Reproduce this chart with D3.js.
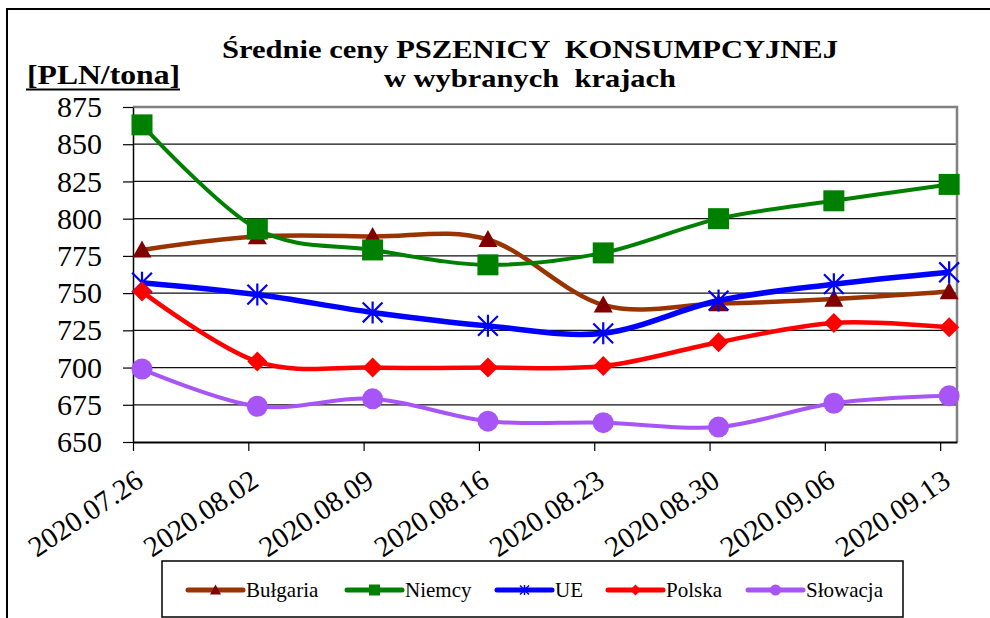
<!DOCTYPE html>
<html>
<head>
<meta charset="utf-8">
<script src="https://cdn.jsdelivr.net/npm/d3@7"></script>
<style>
body { margin: 0; background: #fff; }
svg { display: block; }
svg text { font-family: "Liberation Serif", "Times New Roman", serif; fill: #000; }
</style>
</head>
<body>
<div id="chart"></div>
<script>
// categories (weeks)
var dates = ["2020.07.26", "2020.08.02", "2020.08.09", "2020.08.16",
	"2020.08.23", "2020.08.30", "2020.09.06", "2020.09.13"];

// prices [PLN/tona] per country
var bulgaria = [779, 788, 788, 786, 742, 743, 746, 751];
var niemcy   = [863, 793, 779, 769, 777, 800, 812, 823];
var ue       = [757, 749, 737, 728, 723, 745, 756, 764];
var polska   = [751, 704, 700, 700, 701, 717, 730, 727];
var slowacja = [699, 674, 679, 664, 663, 660, 676, 681];

var seriesNames = ["Bułgaria", "Niemcy", "UE", "Polska", "Słowacja"];
var yTicks = [650, 675, 700, 725, 750, 775, 800, 825, 850, 875];

var W = 990, H = 618;
var pLeft = 133, pRight = 957, pTop = 107, pBottom = 442;
var serif = "'Liberation Serif', 'Times New Roman', serif";

var svg = d3.select("#chart").append("svg")
	.attr("width", W)
	.attr("height", H);

// outer frame
svg.append("rect")
	.attr("x", 7).attr("y", 9)
	.attr("width", 990).attr("height", 700)
	.attr("fill", "none")
	.attr("stroke", "#000")
	.attr("stroke-width", 2);

// scales: points sit a bit to the right of the tick marks, like in the excel date axis
var shift = 0.078;
var x = d3.scaleLinear().domain([-shift, 7.068]).range([pLeft, pRight]);
var y = d3.scaleLinear().domain([650, 875]).range([pBottom, pTop]);

// gridlines
svg.append("g").selectAll("line")
	.data(yTicks.filter(function(d) { return d != 650 && d != 875; }))
	.enter().append("line")
	.attr("x1", pLeft).attr("x2", pRight)
	.attr("y1", function(d) { return y(d); })
	.attr("y2", function(d) { return y(d); })
	.attr("stroke", "#111")
	.attr("stroke-width", 1.2);

// plot border (top & right grey)
svg.append("path")
	.attr("d", "M" + pLeft + "," + pTop + "H" + pRight + "V" + pBottom)
	.attr("fill", "none")
	.attr("stroke", "#808080")
	.attr("stroke-width", 2.5);

// y axis
var yAxis = svg.append("g")
	.attr("transform", "translate(" + pLeft + ",0)")
	.call(d3.axisLeft(y).tickValues(yTicks).tickSize(10).tickPadding(21).tickSizeOuter(0));
yAxis.select(".domain").attr("stroke", "#000").attr("stroke-width", 1.5);
yAxis.selectAll(".tick line").attr("stroke", "#000").attr("stroke-width", 1.2);
yAxis.selectAll("text")
	.attr("font-size", 30)
	.attr("font-family", serif)
	.attr("fill", "#000");

// x axis
var xAxis = svg.append("g")
	.attr("transform", "translate(0," + pBottom + ")")
	.call(d3.axisBottom(x)
		.tickValues(dates.map(function(d, i) { return i - shift; }))
		.tickSize(9).tickSizeOuter(0).tickFormat(""));
xAxis.select(".domain").attr("stroke", "#000").attr("stroke-width", 2);
xAxis.selectAll(".tick line").attr("stroke", "#000").attr("stroke-width", 1.2);

// rotated date labels
svg.append("g").selectAll("text")
	.data(dates)
	.enter().append("text")
	.attr("transform", function(d, i) {
		return "translate(" + (x(i - shift) + 12) + ",485) rotate(-34)";
	})
	.attr("text-anchor", "end")
	.attr("font-family", serif)
	.attr("font-size", 29)
	.text(function(d) { return d; });

// series
var series = [
	{ name: seriesNames[0], values: bulgaria, line: "#993300", fill: "#800000", shape: "triangle", width: 4.5 },
	{ name: seriesNames[1], values: niemcy,   line: "#008000", fill: "#008000", shape: "square",   width: 4 },
	{ name: seriesNames[2], values: ue,       line: "#0000ff", fill: "#0000ff", shape: "star",     width: 5.5 },
	{ name: seriesNames[3], values: polska,   line: "#ff0000", fill: "#ff0000", shape: "diamond",  width: 4.5 },
	{ name: seriesNames[4], values: slowacja, line: "#a855f7", fill: "#a855f7", shape: "circle",   width: 4 }
];

// draw a marker centered at (cx, cy)
function marker(g, s, cx, cy, size) {
	var h = size / 2;
	if (s.shape == "triangle") {
		g.append("path")
			.attr("d", "M" + cx + "," + (cy - h) + "L" + (cx + h) + "," + (cy + h * 0.8) + "L" + (cx - h) + "," + (cy + h * 0.8) + "Z")
			.attr("fill", s.fill);
	} else if (s.shape == "square") {
		g.append("rect")
			.attr("x", cx - h).attr("y", cy - h)
			.attr("width", size).attr("height", size)
			.attr("fill", s.fill);
	} else if (s.shape == "diamond") {
		g.append("path")
			.attr("d", "M" + cx + "," + (cy - h) + "L" + (cx + h) + "," + cy + "L" + cx + "," + (cy + h) + "L" + (cx - h) + "," + cy + "Z")
			.attr("fill", s.fill);
	} else if (s.shape == "circle") {
		g.append("circle")
			.attr("cx", cx).attr("cy", cy).attr("r", h)
			.attr("fill", s.fill);
	} else {
		var d = h * 0.9;
		g.append("path")
			.attr("d", "M" + cx + "," + (cy - h) + "V" + (cy + h)
				+ "M" + (cx - d) + "," + (cy - d) + "L" + (cx + d) + "," + (cy + d)
				+ "M" + (cx - d) + "," + (cy + d) + "L" + (cx + d) + "," + (cy - d))
			.attr("stroke", s.fill)
			.attr("stroke-width", size > 14 ? 2.2 : 1.5)
			.attr("fill", "none");
	}
}

var line = d3.line()
	.x(function(d, i) { return x(i); })
	.y(function(d) { return y(d); })
	.curve(d3.curveCardinal.tension(0));

var markerSize = { triangle: 19, square: 21, star: 22, diamond: 20, circle: 21 };

series.forEach(function(s) {
	var g = svg.append("g");
	g.append("path")
		.attr("d", line(s.values))
		.attr("fill", "none")
		.attr("stroke", s.line)
		.attr("stroke-width", s.width)
		.attr("stroke-linejoin", "round");
	s.values.forEach(function(v, i) {
		marker(g, s, x(i), y(v), markerSize[s.shape]);
	});
});

// title
svg.append("text")
	.attr("x", 222).attr("y", 58)
	.attr("font-family", serif)
	.attr("font-size", 26)
	.attr("font-weight", "bold")
	.attr("textLength", 616)
	.attr("lengthAdjust", "spacingAndGlyphs")
	.attr("xml:space", "preserve")
	.text("Średnie ceny PSZENICY  KONSUMPCYJNEJ");

svg.append("text")
	.attr("x", 384).attr("y", 87)
	.attr("font-family", serif)
	.attr("font-size", 26)
	.attr("font-weight", "bold")
	.attr("textLength", 292)
	.attr("lengthAdjust", "spacingAndGlyphs")
	.attr("xml:space", "preserve")
	.text("w wybranych  krajach");

// unit label
svg.append("text")
	.attr("x", 27).attr("y", 84)
	.attr("font-family", serif)
	.attr("font-size", 28)
	.attr("font-weight", "bold")
	.attr("textLength", 153)
	.attr("lengthAdjust", "spacingAndGlyphs")
	.text("[PLN/tona]");
svg.append("line")
	.attr("x1", 26).attr("x2", 180)
	.attr("y1", 89.5).attr("y2", 89.5)
	.attr("stroke", "#000")
	.attr("stroke-width", 2);

// legend
var legend = svg.append("g");
legend.append("rect")
	.attr("x", 162).attr("y", 561)
	.attr("width", 741).attr("height", 56)
	.attr("fill", "#fff")
	.attr("stroke", "#000")
	.attr("stroke-width", 1.5);

var legendX = [188, 347, 497, 608, 748];
series.forEach(function(s, i) {
	var lx = legendX[i], ly = 590;
	legend.append("line")
		.attr("x1", lx).attr("x2", lx + 55)
		.attr("y1", ly).attr("y2", ly)
		.attr("stroke", s.line)
		.attr("stroke-width", 5)
		.attr("stroke-linecap", "round");
	marker(legend, s, lx + 27.5, ly, s.shape == "star" ? 10 : 11);
	legend.append("text")
		.attr("x", lx + 58).attr("y", ly + 7)
		.attr("font-family", serif)
		.attr("font-size", 21)
		.text(s.name);
});
</script>
</body>
</html>
